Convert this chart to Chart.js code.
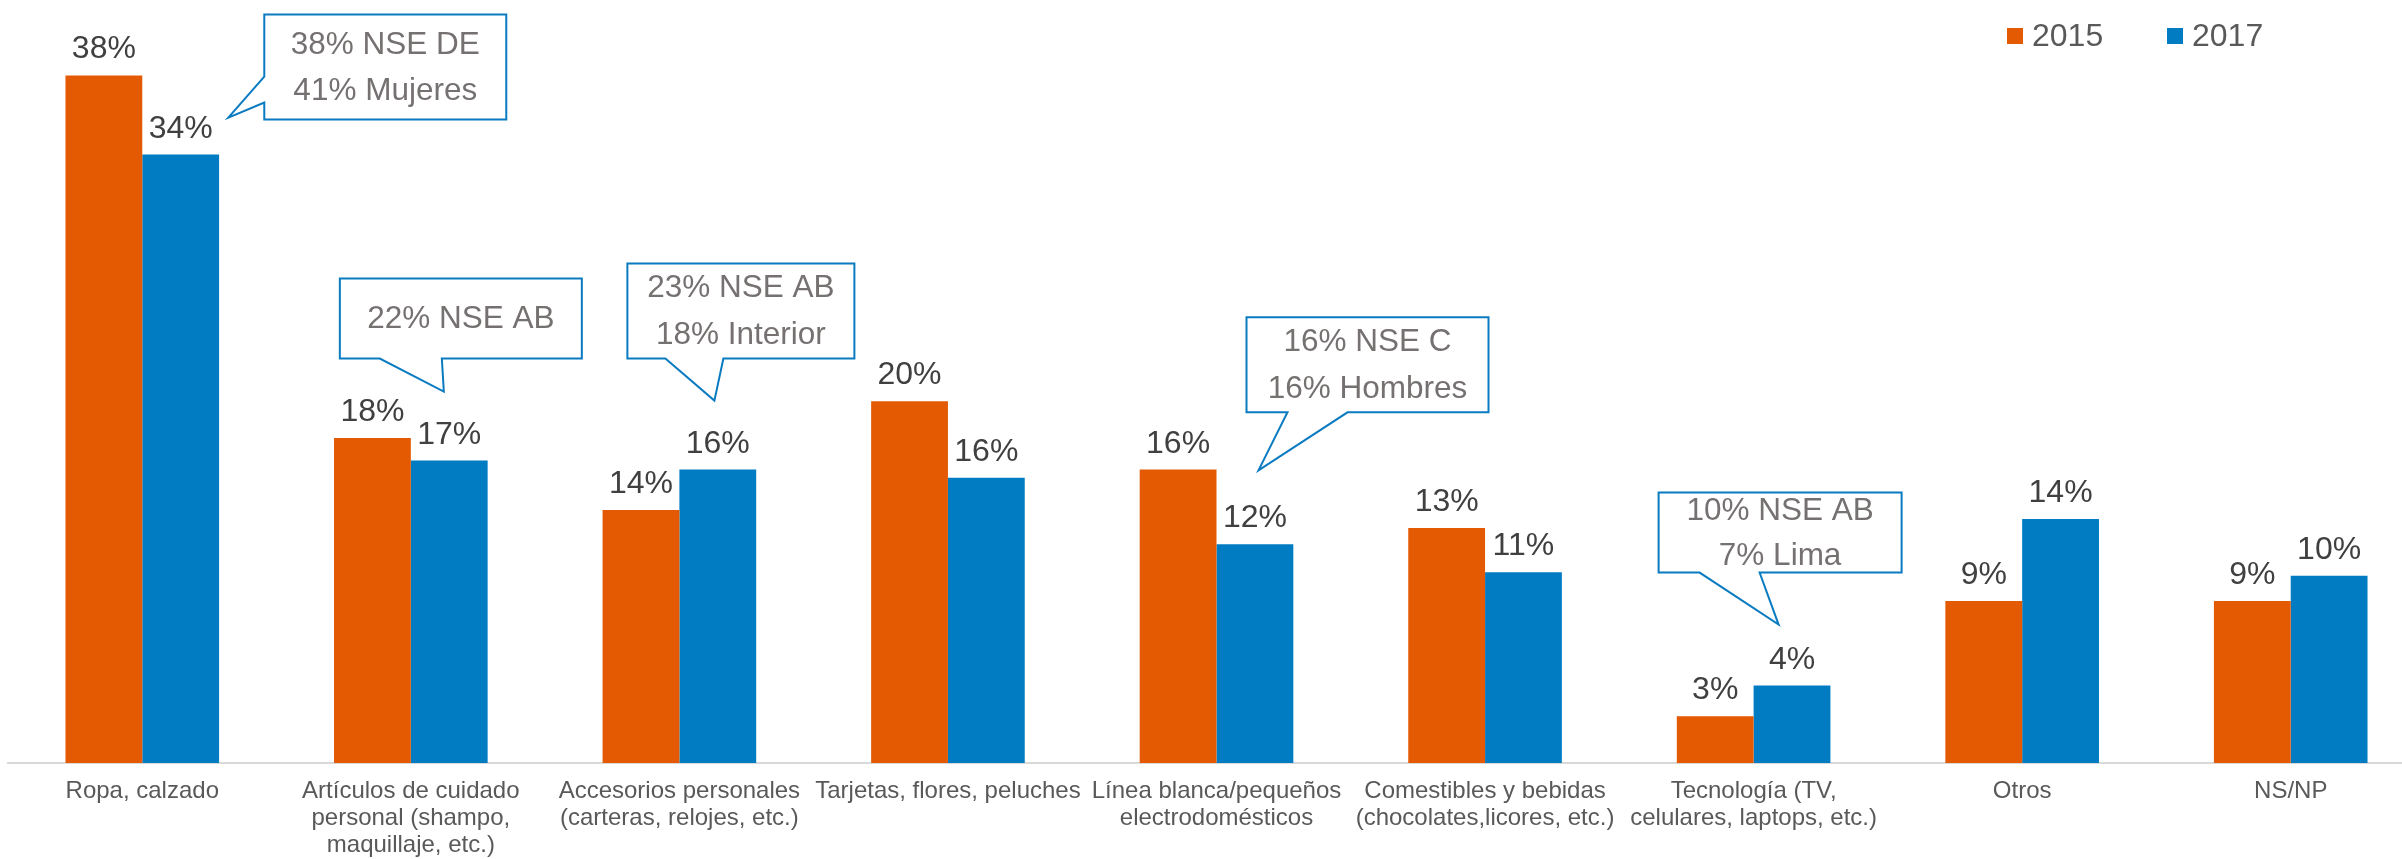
<!DOCTYPE html>
<html lang="es">
<head>
<meta charset="utf-8">
<title>Regalos 2015 vs 2017</title>
<script src="https://cdn.jsdelivr.net/npm/chart.js@4.4.1/dist/chart.umd.min.js"></script>
<style>
  html, body { margin: 0; padding: 0; background: #fff; overflow: hidden; }
  #chartRegalos { display: block; }
</style>
</head>
<body>
<canvas id="chartRegalos" width="2425" height="874"></canvas>
<script>
// 📊 datos
const categorias = [
    ["Ropa, calzado"],
    ["Artículos de cuidado", "personal (shampo,", "maquillaje, etc.)"],
    ["Accesorios personales", "(carteras, relojes, etc.)"],
    ["Tarjetas, flores, peluches"],
    ["Línea blanca/pequeños", "electrodomésticos"],
    ["Comestibles y bebidas", "(chocolates,licores, etc.)"],
    ["Tecnología (TV,", "celulares, laptops, etc.)"],
    ["Otros"],
    ["NS/NP"]
];
const anios = ["2015", "2017"];
const valores2015 = [38.2, 18.05, 14.05, 20.1, 16.3, 13.05, 2.6, 9.0, 9.0];
const valores2017 = [33.8, 16.8, 16.3, 15.85, 12.15, 10.6, 4.3, 13.55, 10.4];

// textos de las llamadas (por categoría)
const llamadaCategoria = [0, 1, 2, 4, 6];
const llamadaTextos = [
    ["38% NSE DE", "41% Mujeres"],
    ["22% NSE AB"],
    ["23% NSE AB", "18% Interior"],
    ["16% NSE C", "16% Hombres"],
    ["10% NSE AB", "7% Lima"]
];

(() => {
    const fuente = "'Liberation Sans', Arial, Helvetica, sans-serif";
    const colores = ["#E35A02", "#017CC2"];

    // forma de cada llamada: x relativo al centro de la categoría, y relativo a la barra 2017
    const llamadaForma = [
        { l: 122, r: 364, t: -140, b: -35, lado: "left", base: [-78, -52], punta: [86, -37], lineas: [-109, -63] },
        { l: -71, r: 171, t: -182, b: -102, lado: "bottom", base: [-31, 31], punta: [33, -69], lineas: [-141] },
        { l: -52, r: 175, t: -206, b: -111, lado: "bottom", base: [-14, 44], punta: [35, -69], lineas: [-181, -134] },
        { l: 30, r: 272, t: -227, b: -132, lado: "bottom", base: [71, 131], punta: [42, -74], lineas: [-202, -155] },
        { l: -95, r: 148, t: -193, b: -113, lado: "bottom", base: [-54, 6], punta: [25, -61], lineas: [-174, -129] }
    ];

    // etiquetas de valor sobre cada barra
    const etiquetasValor = {
        id: "etiquetasValor",
        afterDatasetsDraw(chart) {
            const ctx = chart.ctx;
            ctx.save();
            ctx.font = "32px " + fuente;
            ctx.fillStyle = "#404040";
            ctx.textAlign = "center";
            ctx.textBaseline = "alphabetic";
            chart.data.datasets.forEach((ds, i) => {
                chart.getDatasetMeta(i).data.forEach((bar, j) => {
                    ctx.fillText(Math.round(ds.data[j]) + "%", bar.x, bar.y - 17);
                });
            });
            ctx.restore();
        }
    };

    // llamadas (cuadros con punta)
    const llamadas = {
        id: "llamadas",
        afterDraw(chart) {
            const ctx = chart.ctx;
            const meta = chart.getDatasetMeta(1);
            ctx.save();
            llamadaCategoria.forEach((cat, k) => {
                const f = llamadaForma[k];
                const cx = chart.scales.x.getPixelForValue(cat);
                const yb = meta.data[cat].y;
                const L = cx + f.l, R = cx + f.r, T = yb + f.t, B = yb + f.b;
                ctx.beginPath();
                if (f.lado === "left") {
                    ctx.moveTo(L, T);
                    ctx.lineTo(R, T);
                    ctx.lineTo(R, B);
                    ctx.lineTo(L, B);
                    ctx.lineTo(L, yb + f.base[1]);
                    ctx.lineTo(cx + f.punta[0], yb + f.punta[1]);
                    ctx.lineTo(L, yb + f.base[0]);
                } else {
                    ctx.moveTo(L, T);
                    ctx.lineTo(R, T);
                    ctx.lineTo(R, B);
                    ctx.lineTo(cx + f.base[1], B);
                    ctx.lineTo(cx + f.punta[0], yb + f.punta[1]);
                    ctx.lineTo(cx + f.base[0], B);
                    ctx.lineTo(L, B);
                }
                ctx.closePath();
                ctx.fillStyle = "#ffffff";
                ctx.fill();
                ctx.lineWidth = 2;
                ctx.strokeStyle = "#0B7BC1";
                ctx.stroke();

                ctx.font = "31.5px " + fuente;
                ctx.fillStyle = "#767171";
                ctx.textAlign = "center";
                ctx.textBaseline = "middle";
                llamadaTextos[k].forEach((txt, n) => {
                    ctx.fillText(txt, (L + R) / 2, yb + f.lineas[n]);
                });
            });
            ctx.restore();
        }
    };

    // leyenda arriba a la derecha
    const leyenda = {
        id: "leyenda",
        afterDraw(chart) {
            const ctx = chart.ctx;
            const x0 = 2007, y0 = 28, caja = 16, sep = 160;
            ctx.save();
            ctx.font = "32px " + fuente;
            ctx.textAlign = "left";
            ctx.textBaseline = "middle";
            chart.data.datasets.forEach((ds, i) => {
                const x = x0 + i * sep;
                ctx.fillStyle = ds.backgroundColor;
                ctx.fillRect(x, y0, caja, caja);
                ctx.fillStyle = "#595959";
                ctx.fillText(ds.label, x + caja + 9, y0 + caja / 2 + 1);
            });
            ctx.restore();
        }
    };

    const ctx = document.getElementById("chartRegalos");
    new Chart(ctx, {
        type: "bar",
        data: {
            labels: categorias,
            datasets: [
                { label: anios[0], data: valores2015, backgroundColor: colores[0] },
                { label: anios[1], data: valores2017, backgroundColor: colores[1] }
            ]
        },
        options: {
            responsive: false,
            animation: false,
            devicePixelRatio: 1,
            layout: { padding: { top: 7, left: 8, right: 0, bottom: 0 } },
            datasets: { bar: { categoryPercentage: 0.572, barPercentage: 1.0 } },
            plugins: {
                legend: { display: false },
                tooltip: { enabled: false }
            },
            scales: {
                x: {
                    grid: { display: false, drawTicks: false },
                    border: { display: true, color: "#d9d9d9", width: 2 },
                    ticks: {
                        autoSkip: false,
                        maxRotation: 0,
                        minRotation: 0,
                        padding: 15,
                        color: "#595959",
                        font: { family: fuente, size: 24, lineHeight: 1.125 }
                    }
                },
                y: { display: false, min: 0, max: 42 }
            }
        },
        plugins: [etiquetasValor, llamadas, leyenda]
    });
})();
</script>
</body>
</html>
